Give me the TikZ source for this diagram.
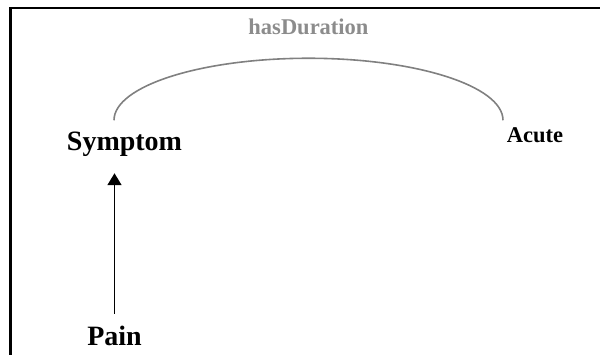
\documentclass[tikz,border=0pt]{standalone}
\usepackage{fontspec}
\setmainfont{Liberation Serif}
\usetikzlibrary{arrows.meta}
\definecolor{relgray}{RGB}{128,128,128}
\definecolor{rellabel}{RGB}{140,140,140}

\begin{document}
\begin{tikzpicture}[x=1pt, y=1pt, every node/.style={inner sep=0pt, anchor=base},
  cls/.style={font=\fontsize{28}{30}\selectfont\bfseries},
  val/.style={font=\fontsize{22.5}{24}\selectfont\bfseries},
  rel/.style={draw=relgray, line width=1.6pt}]
\useasboundingbox (0,0) rectangle (600,354);
% open frame: only the left and top edges show
\draw[line width=3pt] (10.5,-5) -- (10.5,346);
\draw[line width=2.4pt] (9,346) -- (605,346);
\node[cls] (symptom) at (124.5,204) {Symptom};
\node[val] (acute) at (535,211) {Acute};
\node[cls] (pain) at (114.5,9) {Pain};
\node[val, text=rellabel] (hasdur) at (308.5,319) {hasDuration};
% property arc from the class to its value
\draw[rel] ([xshift=-10.5pt,yshift=11pt]symptom.north) arc[start angle=180, end angle=0, x radius=194.5, y radius=62];
% subclass link
\draw[line width=1.8pt, -{Triangle[width=14pt,length=12pt]}, shorten <=11.5pt, shorten >=17pt]
  (pain.north) -- (pain.north |- symptom.south);
\end{tikzpicture}
\end{document}
